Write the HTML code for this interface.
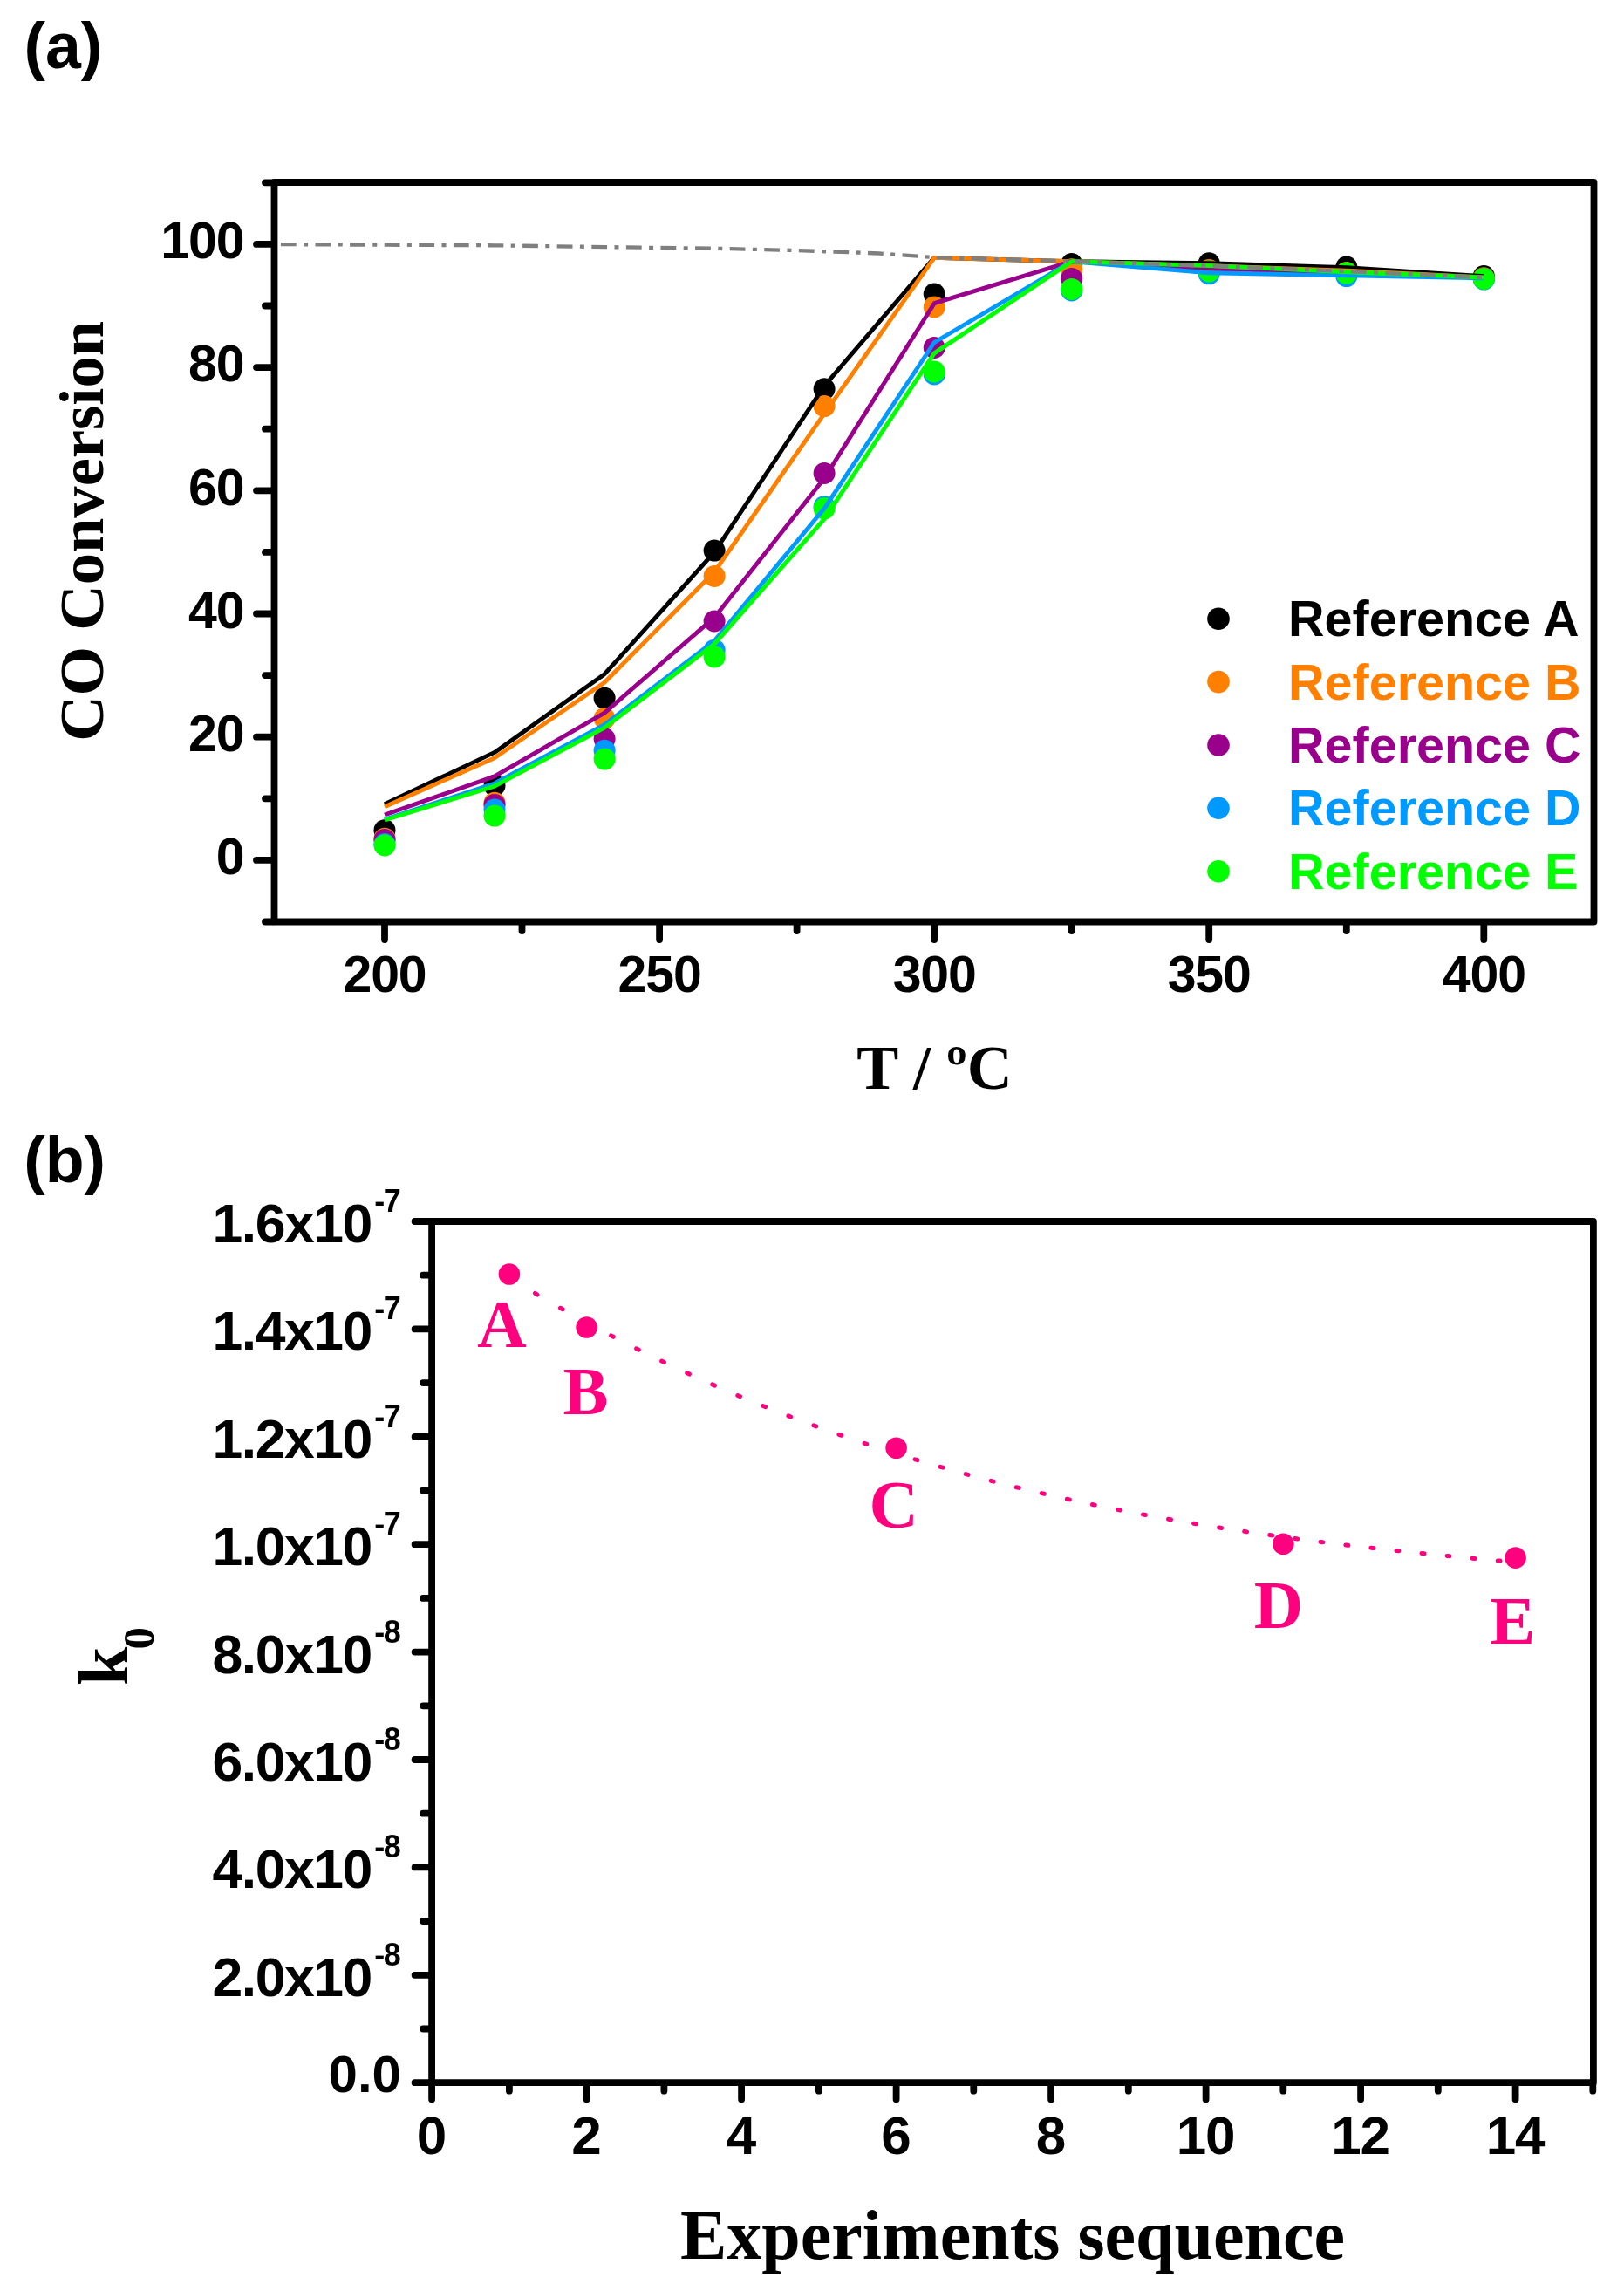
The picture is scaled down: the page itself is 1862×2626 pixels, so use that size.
<!DOCTYPE html>
<html lang="en">
<head>
<meta charset="utf-8">
<title>CO conversion and k0 vs experiments sequence</title>
<style>
html,body{margin:0;padding:0;background:#fff}
body{width:1862px;height:2626px;overflow:hidden}
svg{display:block;filter:blur(0.55px)}
text{white-space:pre}
</style>
</head>
<body>
<svg width="1862" height="2626" viewBox="0 0 1862 2626">
<rect width="1862" height="2626" fill="#fff"/>
<g id="panel-a">
<g stroke="#000" stroke-width="7.8" fill="none" stroke-linecap="round">
<path d="M314.5 209H1827.5V1056.5H314.5Z" stroke-linejoin="round" stroke-linecap="butt"/>
<path d="M312.5 1056.5h-8.5M312.5 985.9h-18.5M312.5 915.3h-8.5M312.5 844.7h-18.5M312.5 774.1h-8.5M312.5 703.5h-18.5M312.5 632.9h-8.5M312.5 562.3h-18.5M312.5 491.7h-8.5M312.5 421.1h-18.5M312.5 350.5h-8.5M312.5 279.9h-18.5M312.5 209.3h-8.5M441 1058.5v18.5M598.5 1058.5v8.5M756.1 1058.5v18.5M913.6 1058.5v8.5M1071.2 1058.5v18.5M1228.7 1058.5v8.5M1386.2 1058.5v18.5M1543.8 1058.5v8.5M1701.3 1058.5v18.5"/>
</g>
<g font-family='"Liberation Sans", Arial, Helvetica, sans-serif' font-weight="700" font-size="59" letter-spacing="-1.1" fill="#000">
<text x="279.5" y="1002.1" text-anchor="end">0</text>
<text x="279.5" y="860.9" text-anchor="end">20</text>
<text x="279.5" y="719.7" text-anchor="end">40</text>
<text x="279.5" y="578.5" text-anchor="end">60</text>
<text x="279.5" y="437.3" text-anchor="end">80</text>
<text x="279.5" y="296.1" text-anchor="end">100</text>
<text x="441" y="1137.3" text-anchor="middle">200</text>
<text x="756.1" y="1137.3" text-anchor="middle">250</text>
<text x="1071.2" y="1137.3" text-anchor="middle">300</text>
<text x="1386.2" y="1137.3" text-anchor="middle">350</text>
<text x="1701.3" y="1137.3" text-anchor="middle">400</text>
</g>
<g font-family='"Liberation Serif", "Times New Roman", Times, serif' font-weight="700" font-size="72" fill="#000">
<text transform="translate(117.8 849.8) rotate(-90)" font-size="72.6">CO Conversion</text>
<text x="1071.5" y="1247.5" text-anchor="middle">T / ºC</text>
</g>
<text x="27.5" y="78" font-family='"Liberation Sans", Arial, Helvetica, sans-serif' font-weight="700" font-size="73.5" fill="#000">(a)</text>
<g id="a-dots">
<g fill="#000000"><circle cx="441" cy="951.7" r="12.5"/><circle cx="567" cy="900.5" r="12.5"/><circle cx="693.1" cy="800.2" r="12.5"/><circle cx="819.1" cy="631.1" r="12.5"/><circle cx="945.1" cy="445.8" r="12.5"/><circle cx="1071.2" cy="337.1" r="12.5"/><circle cx="1228.7" cy="302.5" r="12.5"/><circle cx="1386.2" cy="301.8" r="12.5"/><circle cx="1543.8" cy="306" r="12.5"/><circle cx="1701.3" cy="316.6" r="12.5"/></g>
<g fill="#ff8000"><circle cx="441" cy="961.2" r="12.5"/><circle cx="567" cy="920.2" r="12.5"/><circle cx="693.1" cy="823.5" r="12.5"/><circle cx="819.1" cy="660.4" r="12.5"/><circle cx="945.1" cy="465.6" r="12.5"/><circle cx="1071.2" cy="351.9" r="12.5"/><circle cx="1228.7" cy="308.8" r="12.5"/><circle cx="1386.2" cy="309.6" r="12.5"/><circle cx="1543.8" cy="312.4" r="12.5"/><circle cx="1701.3" cy="318.7" r="12.5"/></g>
<g fill="#99008c"><circle cx="441" cy="962.6" r="12.5"/><circle cx="567" cy="922.4" r="12.5"/><circle cx="693.1" cy="846.8" r="12.5"/><circle cx="819.1" cy="712" r="12.5"/><circle cx="945.1" cy="542.5" r="12.5"/><circle cx="1071.2" cy="398.5" r="12.5"/><circle cx="1228.7" cy="319.4" r="12.5"/><circle cx="1386.2" cy="311" r="12.5"/><circle cx="1543.8" cy="313.8" r="12.5"/><circle cx="1701.3" cy="319.4" r="12.5"/></g>
<g fill="#0099ff"><circle cx="441" cy="967.5" r="12.5"/><circle cx="567" cy="928" r="12.5"/><circle cx="693.1" cy="860.2" r="12.5"/><circle cx="819.1" cy="745.2" r="12.5"/><circle cx="945.1" cy="580.7" r="12.5"/><circle cx="1071.2" cy="428.9" r="12.5"/><circle cx="1228.7" cy="332.9" r="12.5"/><circle cx="1386.2" cy="313.8" r="12.5"/><circle cx="1543.8" cy="316.6" r="12.5"/><circle cx="1701.3" cy="320.1" r="12.5"/></g>
<g fill="#00ff00"><circle cx="441" cy="969" r="12.5"/><circle cx="567" cy="935.1" r="12.5"/><circle cx="693.1" cy="870.1" r="12.5"/><circle cx="819.1" cy="752.9" r="12.5"/><circle cx="945.1" cy="582.8" r="12.5"/><circle cx="1071.2" cy="426" r="12.5"/><circle cx="1228.7" cy="331.4" r="12.5"/><circle cx="1386.2" cy="311" r="12.5"/><circle cx="1543.8" cy="313.1" r="12.5"/><circle cx="1701.3" cy="319.4" r="12.5"/></g>
</g>
<g id="a-lines" fill="none" stroke-width="4.9" stroke-linejoin="round">
<polyline stroke="#000000" points="441,921.7 567,862.4 693.1,772.7 819.1,632.9 945.1,442.3 1071.2,295.4 1228.7,299.7 1386.2,301.8 1543.8,306.7 1701.3,316.6"/>
<polyline stroke="#ff8000" points="441,924.8 567,868.7 693.1,782.2 819.1,655.5 945.1,474.1 1071.2,295.4 1228.7,299.7 1386.2,304.6 1543.8,310.3 1701.3,318"/>
<polyline stroke="#99008c" points="441,934 567,889.9 693.1,817.2 819.1,707.7 945.1,548.2 1071.2,347.7 1228.7,299.7 1386.2,308.1 1543.8,312.4 1701.3,318"/>
<polyline stroke="#0099ff" points="441,939.3 567,898 693.1,830.6 819.1,734.6 945.1,582.8 1071.2,392.5 1228.7,299.7 1386.2,312.7 1543.8,315.9 1701.3,318.7"/>
<polyline stroke="#00ff00" points="441,940 567,901.2 693.1,834.1 819.1,738.1 945.1,594.8 1071.2,404.9 1228.7,299.7 1386.2,304.6 1543.8,311.7 1701.3,318"/>
</g>
<polyline fill="none" stroke="#7f7f7f" stroke-width="4.3" stroke-dasharray="17.8 8.4 5 8.4" points="321.9,280.1 567,281.3 693.1,283.1 819.1,284.8 913.6,287 1008.1,290.5 1071.2,295.1 1228.7,299.7 1386.2,304.6 1543.8,311 1701.3,318"/>
<g font-family='"Liberation Sans", Arial, Helvetica, sans-serif' font-weight="700" font-size="57.5">
<g fill="#000000"><circle cx="1397" cy="709.3" r="12.8"/><text x="1477" y="729.3">Reference A</text></g>
<g fill="#ff8000"><circle cx="1397" cy="781.6" r="12.8"/><text x="1477" y="801.6">Reference B</text></g>
<g fill="#99008c"><circle cx="1397" cy="854" r="12.8"/><text x="1477" y="874">Reference C</text></g>
<g fill="#0099ff"><circle cx="1397" cy="926.3" r="12.8"/><text x="1477" y="946.3">Reference D</text></g>
<g fill="#00ff00"><circle cx="1397" cy="998.7" r="12.8"/><text x="1477" y="1018.7">Reference E</text></g>
</g>
</g>
<g id="panel-b">
<g stroke="#000" stroke-width="7.8" fill="none" stroke-linecap="round">
<path d="M495.1 1400H1826.9V2387.2H495.1Z" stroke-linejoin="round" stroke-linecap="butt"/>
<path d="M493.1 2387.2h-17.5M493.1 2325.5h-8M493.1 2263.8h-17.5M493.1 2202.1h-8M493.1 2140.4h-17.5M493.1 2078.7h-8M493.1 2017h-17.5M493.1 1955.3h-8M493.1 1893.6h-17.5M493.1 1831.9h-8M493.1 1770.2h-17.5M493.1 1708.5h-8M493.1 1646.8h-17.5M493.1 1585.1h-8M493.1 1523.4h-17.5M493.1 1461.7h-8M493.1 1400h-17.5M495.1 2389.2v17M583.9 2389.2v7.5M672.6 2389.2v17M761.4 2389.2v7.5M850.1 2389.2v17M938.9 2389.2v7.5M1027.6 2389.2v17M1116.3 2389.2v7.5M1205.1 2389.2v17M1293.8 2389.2v7.5M1382.6 2389.2v17M1471.3 2389.2v7.5M1560.1 2389.2v17M1648.8 2389.2v7.5M1737.6 2389.2v17M1826.3 2389.2v7.5"/>
</g>
<g font-family='"Liberation Sans", Arial, Helvetica, sans-serif' font-weight="700" font-size="60" fill="#000">
<text x="458.2" y="1424" text-anchor="end" font-size="62.5" letter-spacing="-1.5">1.6x10<tspan font-size="36" dx="3.4" dy="-35" letter-spacing="-1.5">-7</tspan></text>
<text x="458.2" y="1547.4" text-anchor="end" font-size="62.5" letter-spacing="-1.5">1.4x10<tspan font-size="36" dx="3.4" dy="-35" letter-spacing="-1.5">-7</tspan></text>
<text x="458.2" y="1670.8" text-anchor="end" font-size="62.5" letter-spacing="-1.5">1.2x10<tspan font-size="36" dx="3.4" dy="-35" letter-spacing="-1.5">-7</tspan></text>
<text x="458.2" y="1794.2" text-anchor="end" font-size="62.5" letter-spacing="-1.5">1.0x10<tspan font-size="36" dx="3.4" dy="-35" letter-spacing="-1.5">-7</tspan></text>
<text x="458.2" y="1917.6" text-anchor="end" font-size="62.5" letter-spacing="-1.5">8.0x10<tspan font-size="36" dx="3.4" dy="-35" letter-spacing="-1.5">-8</tspan></text>
<text x="458.2" y="2041" text-anchor="end" font-size="62.5" letter-spacing="-1.5">6.0x10<tspan font-size="36" dx="3.4" dy="-35" letter-spacing="-1.5">-8</tspan></text>
<text x="458.2" y="2164.4" text-anchor="end" font-size="62.5" letter-spacing="-1.5">4.0x10<tspan font-size="36" dx="3.4" dy="-35" letter-spacing="-1.5">-8</tspan></text>
<text x="458.2" y="2287.8" text-anchor="end" font-size="62.5" letter-spacing="-1.5">2.0x10<tspan font-size="36" dx="3.4" dy="-35" letter-spacing="-1.5">-8</tspan></text>
<text x="460" y="2398.2" text-anchor="end">0.0</text>
<text x="494.5" y="2469" text-anchor="middle" font-size="62" letter-spacing="-1.2">0</text>
<text x="672" y="2469" text-anchor="middle" font-size="62" letter-spacing="-1.2">2</text>
<text x="849.5" y="2469" text-anchor="middle" font-size="62" letter-spacing="-1.2">4</text>
<text x="1027" y="2469" text-anchor="middle" font-size="62" letter-spacing="-1.2">6</text>
<text x="1204.5" y="2469" text-anchor="middle" font-size="62" letter-spacing="-1.2">8</text>
<text x="1382" y="2469" text-anchor="middle" font-size="62" letter-spacing="-1.2">10</text>
<text x="1559.5" y="2469" text-anchor="middle" font-size="62" letter-spacing="-1.2">12</text>
<text x="1737" y="2469" text-anchor="middle" font-size="62" letter-spacing="-1.2">14</text>
</g>
<g font-family='"Liberation Serif", "Times New Roman", Times, serif' font-weight="700" fill="#000">
<text x="1161" y="2589" font-size="80" text-anchor="middle">Experiments sequence</text>
<text transform="translate(145.5 1932) rotate(-90)" font-size="80">k<tspan font-size="51" dx="-3" dy="30">0</tspan></text>
</g>
<text x="27.2" y="1355" font-family='"Liberation Sans", Arial, Helvetica, sans-serif' font-weight="700" font-size="73.5" fill="#000">(b)</text>
<g id="b-series" fill="#ff007f">
<path fill="none" stroke="#ff007f" stroke-width="5" stroke-linecap="round" d="M584.4 1465.0L587.0 1466.5M613.5 1482.4L616.0 1484.0M642.5 1499.3L645.1 1500.7M671.5 1515.4L674.2 1516.8M700.6 1530.9L703.2 1532.3M729.6 1545.8L732.3 1547.2M758.6 1560.1L761.4 1561.4M787.7 1573.8L790.4 1575.1M816.7 1586.9L819.5 1588.1M845.8 1599.5L848.5 1600.6M874.8 1611.5L877.6 1612.6M903.9 1622.9L906.6 1624.0M932.9 1633.9L935.7 1634.9M961.9 1644.3L964.8 1645.3M991.0 1654.3L993.8 1655.3M1020.0 1663.8L1022.9 1664.7M1049.1 1672.8L1051.9 1673.7M1078.1 1681.4L1081.0 1682.2M1107.2 1689.6L1110.0 1690.4M1136.2 1697.3L1139.1 1698.1M1165.2 1704.7L1168.2 1705.4M1194.3 1711.6L1197.2 1712.3M1223.3 1718.2L1226.3 1718.9M1252.4 1724.5L1255.3 1725.1M1281.4 1730.4L1284.4 1731.0M1310.5 1736.0L1313.4 1736.5M1339.5 1741.3L1342.5 1741.8M1368.6 1746.3L1371.5 1746.7M1397.6 1751.0L1400.6 1751.4M1426.7 1755.4L1429.6 1755.9M1455.7 1759.6L1458.7 1760.0M1484.8 1763.6L1487.7 1764.0M1513.8 1767.4L1516.8 1767.7M1542.9 1770.9L1545.8 1771.3M1571.9 1774.3L1574.9 1774.6M1601.0 1777.5L1603.9 1777.8M1630.0 1780.5L1633.0 1780.8M1659.1 1783.4L1662.0 1783.7M1688.1 1786.2L1691.1 1786.5M1717.2 1788.9L1720.1 1789.1"/>
<circle cx="583.9" cy="1460.5" r="12.3"/>
<circle cx="672.6" cy="1521.5" r="12.3"/>
<circle cx="1027.6" cy="1659.8" r="12.3"/>
<circle cx="1471.3" cy="1769.8" r="12.3"/>
<circle cx="1737.6" cy="1785.6" r="12.3"/>
<g font-family='"Liberation Serif", "Times New Roman", Times, serif' font-weight="700" font-size="78" text-anchor="middle">
<text x="575.5" y="1544">A</text>
<text x="671.5" y="1620.5">B</text>
<text x="1024.7" y="1751">C</text>
<text x="1465.8" y="1866">D</text>
<text x="1734.3" y="1884">E</text>
</g>
</g>
</g>
</svg>
</body>
</html>
